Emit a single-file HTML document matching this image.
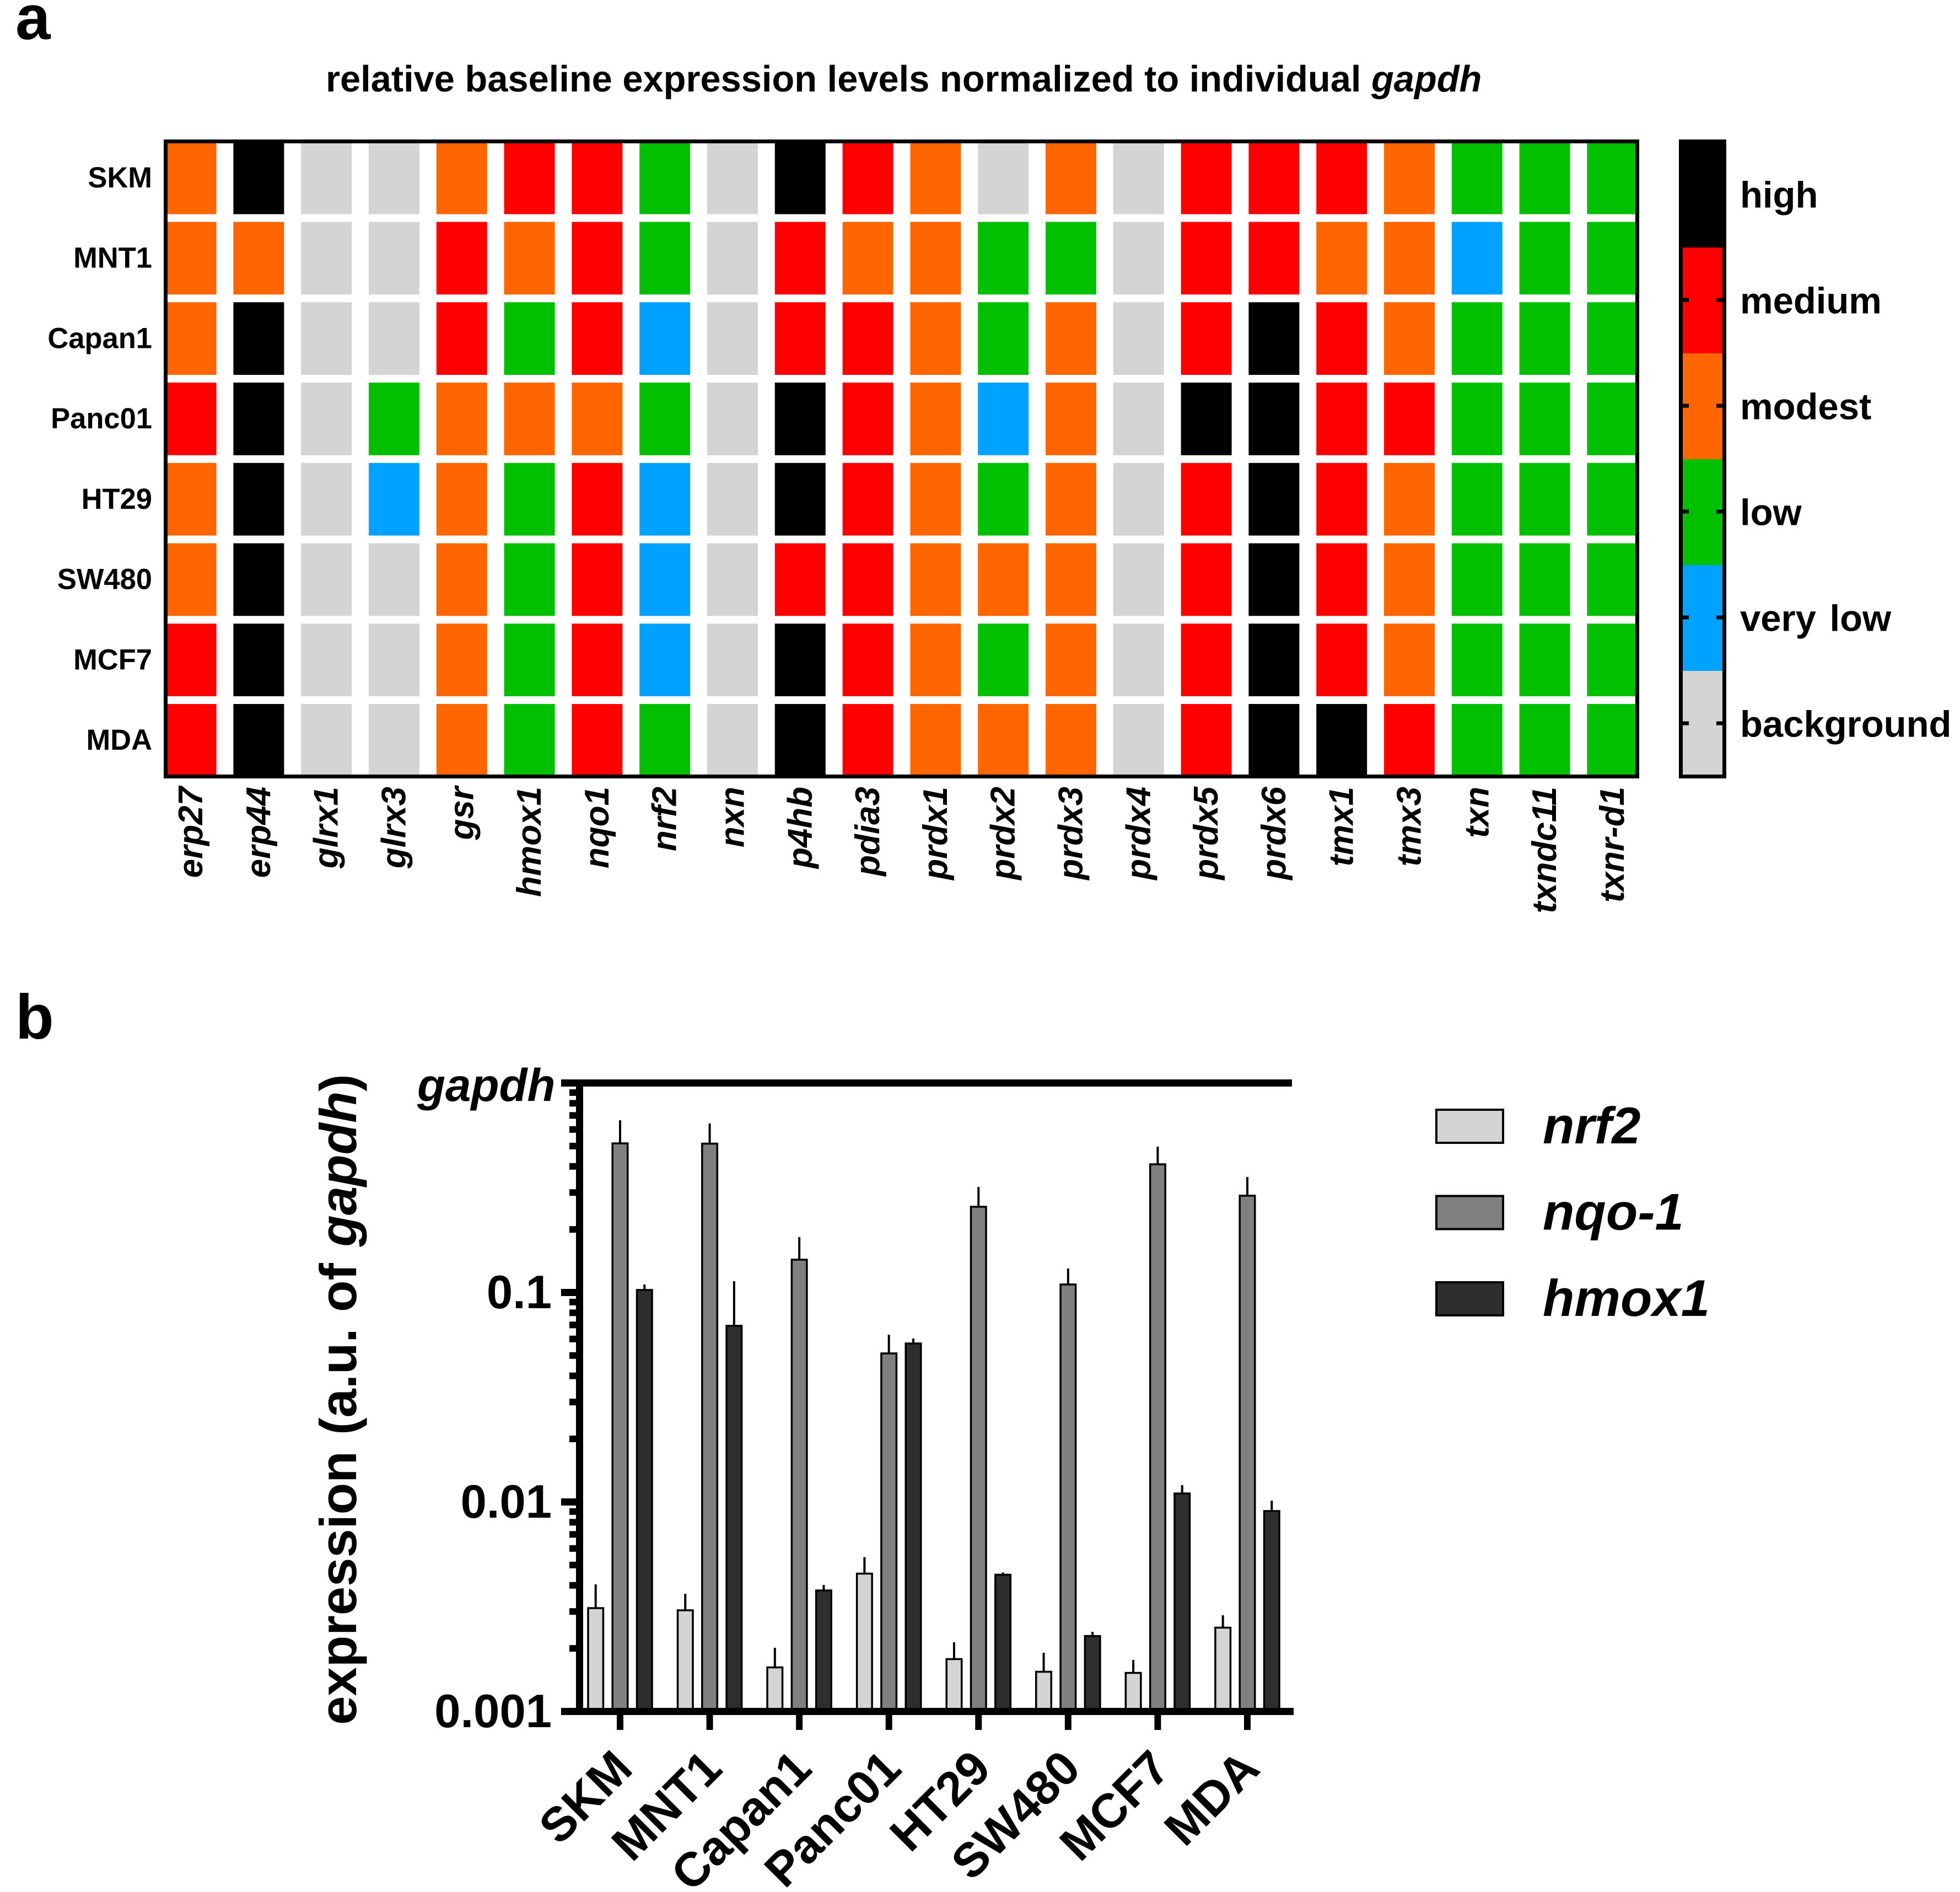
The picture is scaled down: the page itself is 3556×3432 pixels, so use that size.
<!DOCTYPE html>
<html lang="en">
<head>
<meta charset="utf-8">
<title>Baseline expression levels</title>
<style>
html,body{margin:0;padding:0;background:#fff;}
svg{display:block;font-family:"Liberation Sans",Arial,sans-serif;font-weight:bold;fill:#000;}
</style>
</head>
<body>
<svg id="fig" xmlns="http://www.w3.org/2000/svg" width="3556" height="3432" viewBox="0 0 3556 3432">
  <defs><clipPath id="hm-clip"><rect x="304" y="260" width="2663" height="1145"/></clipPath></defs>
  <rect x="0" y="0" width="3556" height="3432" fill="#fff"/>
  <text x="28" y="71" font-size="114">a</text>
  <text x="28" y="1884" font-size="114">b</text>
  <text x="591" y="166" font-size="66.8">relative baseline expression levels normalized to individual <tspan font-style="italic">gapdh</tspan></text>
  <g id="heatmap" clip-path="url(#hm-clip)"></g>
  <rect x="300.5" y="256.5" width="2670" height="1152" fill="none" stroke="#000" stroke-width="7"/>
  <g id="rowLabels" font-size="52.5" text-anchor="end"></g>
  <g id="colLabels" font-size="62" font-style="italic" text-anchor="end"></g>
  <g id="colorbar"></g>
  <text transform="translate(646 2538.5) rotate(-90)" font-size="94" word-spacing="3.5" text-anchor="middle">expression (a.u. of <tspan font-style="italic">gapdh</tspan>)</text>
  <g id="bars"></g>
  <g id="axes"></g>
  <g id="legend"></g>
</svg>
<script>
// ---------- heatmap data ----------
const cellLines = ["SKM","MNT1","Capan1","Panc01","HT29","SW480","MCF7","MDA"];
const genes = ["erp27","erp44","glrx1","glrx3","gsr","hmox1","nqo1","nrf2","nxn","p4hb","pdia3","prdx1","prdx2","prdx3","prdx4","prdx5","prdx6","tmx1","tmx3","txn","txndc11","txnr-d1"];
// 0 background, 1 very low, 2 low, 3 modest, 4 medium, 5 high
const levelsSKM    = [3,5,0,0,3,4,4,2,0,5,4,3,0,3,0,4,4,4,3,2,2,2];
const levelsMNT1   = [3,3,0,0,4,3,4,2,0,4,3,3,2,2,0,4,4,3,3,1,2,2];
const levelsCapan1 = [3,5,0,0,4,2,4,1,0,4,4,3,2,3,0,4,5,4,3,2,2,2];
const levelsPanc01 = [4,5,0,2,3,3,3,2,0,5,4,3,1,3,0,5,5,4,4,2,2,2];
const levelsHT29   = [3,5,0,1,3,2,4,1,0,5,4,3,2,3,0,4,5,4,3,2,2,2];
const levelsSW480  = [3,5,0,0,3,2,4,1,0,4,4,3,3,3,0,4,5,4,3,2,2,2];
const levelsMCF7   = [4,5,0,0,3,2,4,1,0,5,4,3,2,3,0,4,5,4,3,2,2,2];
const levelsMDA    = [4,5,0,0,3,2,4,2,0,5,4,3,3,3,0,4,5,5,4,2,2,2];
const levelRows = [levelsSKM,levelsMNT1,levelsCapan1,levelsPanc01,levelsHT29,levelsSW480,levelsMCF7,levelsMDA];
const levelNames = ["background","very low","low","modest","medium","high"];
const levelColors = ["#d4d4d4","#00a2ff","#00c000","#ff6600","#ff0000","#000000"];

// ---------- bar chart data ----------
const nrf2Values  = [0.003114,0.003040,0.001623,0.004549,0.001778,0.001547,0.001528,0.002512];
const nrf2Upper   = [0.004041,0.003646,0.002013,0.005453,0.002139,0.001907,0.001762,0.002879];
const nqo1Values  = [0.5150,0.5135,0.1434,0.0512,0.2566,0.1092,0.4091,0.2897];
const nqo1Upper   = [0.6640,0.6407,0.1838,0.0629,0.3190,0.1302,0.4967,0.3558];
const hmox1Values = [0.1028,0.06931,0.003781,0.0571,0.004495,0.002291,0.01098,0.009051];
const hmox1Upper  = [0.1092,0.1133,0.004017,0.0603,0.004604,0.002401,0.01203,0.01015];
const seriesNames = ["nrf2","nqo-1","hmox1"];
const seriesValues = [nrf2Values,nqo1Values,hmox1Values];
const seriesUpper = [nrf2Upper,nqo1Upper,hmox1Upper];
const seriesFills = ["#d4d4d4","#808080","#2e2e2e"];
const yTickValues = [0.1,0.01,0.001];
const yTickLabels = ["0.1","0.01","0.001"];
const yMinorBases = [0.1,0.01,0.001];
const yMinorMultipliers = [2,3,4,5,6,7,8,9];

const NS = "http://www.w3.org/2000/svg";
function mk(tag, attrs, parent, text){
  const el = document.createElementNS(NS, tag);
  for (const k in attrs) el.setAttribute(k, attrs[k]);
  if (text !== undefined) el.textContent = text;
  parent.appendChild(el);
  return el;
}
// axis functions
const hmColX = j => 300.6 + 122.8 * j;
const hmRowY = i => 256.75 + 145.75 * i;
const barGroupX = i => 1125 + 162.57 * i;
const barOffset = s => (s - 1) * 44.3;
const yScale = v => 3104.5 - (Math.log10(v) + 3) * 380;
const barBase = yScale(0.001);

// heatmap
const hm = document.getElementById("heatmap");
levelRows.forEach((row, i) => {
  row.forEach((lv, j) => {
    const el = mk("rect", {x: hmColX(j), y: hmRowY(i), width: 92, height: 131.75, fill: levelColors[lv]}, hm);
    
    
  });
});
const rowG = document.getElementById("rowLabels");
cellLines.forEach((name, i) => {
  const el = mk("text", {x: 276, y: hmRowY(i) + 83}, rowG, name);
  
  
});
const colG = document.getElementById("colLabels");
genes.forEach((name, j) => {
  const x = hmColX(j) + 46 + 20.5;
  const el = mk("text", {transform: `translate(${x} 1427) rotate(-90)`}, colG, name);
  
  
});

// colorbar (high at the top)
const cb = document.getElementById("colorbar");
const bandTop = k => 257 + 192 * k;
for (let lv = 5; lv >= 0; lv--) {
  const k = 5 - lv;
  const band = mk("rect", {x: 3053, y: Math.max(bandTop(k), 260), width: 72, height: Math.min(bandTop(k) + 192, 1405) - Math.max(bandTop(k), 260), fill: levelColors[lv]}, cb);
  
  
  const tickL = mk("rect", {x: 3053, y: bandTop(k) + 91.5, width: 11, height: 7, fill: "#000"}, cb);
  
  
  const tickR = mk("rect", {x: 3114, y: bandTop(k) + 91.5, width: 11, height: 7, fill: "#000"}, cb);
  
  
  const lab = mk("text", {x: 3157, y: bandTop(k) + 119.5, "font-size": 67, "word-spacing": 6}, cb, levelNames[lv]);
  
  
}
const cbFrame = mk("rect", {x: 3049.5, y: 256.5, width: 79, height: 1152, fill: "none", stroke: "#000", "stroke-width": 7}, cb);



// bars
const barsG = document.getElementById("bars");
seriesValues.forEach((vals, s) => {
  vals.forEach((v, i) => {
    const cx = barGroupX(i) + barOffset(s);
    const top = yScale(v);
    const err = mk("line", {x1: cx, x2: cx, y1: yScale(seriesUpper[s][i]), y2: top, stroke: "#000", "stroke-width": 4}, barsG);
    
    
    const bar = mk("rect", {x: cx - 13.75, y: top, width: 27.5, height: barBase - top, fill: seriesFills[s], stroke: "#000", "stroke-width": 3.5}, barsG);
    
    
  });
});

// axes
const ax = document.getElementById("axes");
const yLine = mk("rect", {x: 1045, y: 1958, width: 13, height: 1153, fill: "#000"}, ax);


const xLine = mk("rect", {x: 1018, y: 3098, width: 1329, height: 13, fill: "#000"}, ax);


const refLine = mk("rect", {x: 1018, y: yScale(1) - 6.5, width: 1326, height: 13, fill: "#000"}, ax);


const refLabel = mk("text", {x: 757, y: 1997, "font-size": 83.5, "font-style": "italic"}, ax, "gapdh");


yMinorBases.forEach(b => {
  yMinorMultipliers.forEach(m => {
    const t = mk("rect", {x: 1033, y: yScale(b * m) - 6, width: 12, height: 12, fill: "#000"}, ax);
    
    
  });
});
yTickValues.forEach((v, i) => {
  if (v > 0.001) {
    const t = mk("rect", {x: 1018, y: yScale(v) - 6.5, width: 27, height: 13, fill: "#000"}, ax);
    
    
  }
  const l = mk("text", {x: 1001, y: yScale(v) + 28.5, "font-size": 85, "text-anchor": "end"}, ax, yTickLabels[i]);
  
  
});
cellLines.forEach((name, i) => {
  const x = barGroupX(i);
  const t = mk("rect", {x: x - 6, y: 3111, width: 12, height: 27, fill: "#000"}, ax);
  
  
  const l = mk("text", {transform: `translate(${x + 26.5} 3212.5) rotate(-45)`, "font-size": 87, "text-anchor": "end"}, ax, name);
  
  
});

// legend
const lg = document.getElementById("legend");
seriesNames.forEach((name, s) => {
  const y0 = 2013 + 156.5 * s;
  const sw = mk("rect", {x: 2606, y: y0, width: 121, height: 60, fill: seriesFills[s], stroke: "#000", "stroke-width": 4}, lg);
  
  
  const tx = mk("text", {x: 2799, y: y0 + 61, "font-size": 94, "font-style": "italic"}, lg, name);
  
  
});
</script>
</body>
</html>
